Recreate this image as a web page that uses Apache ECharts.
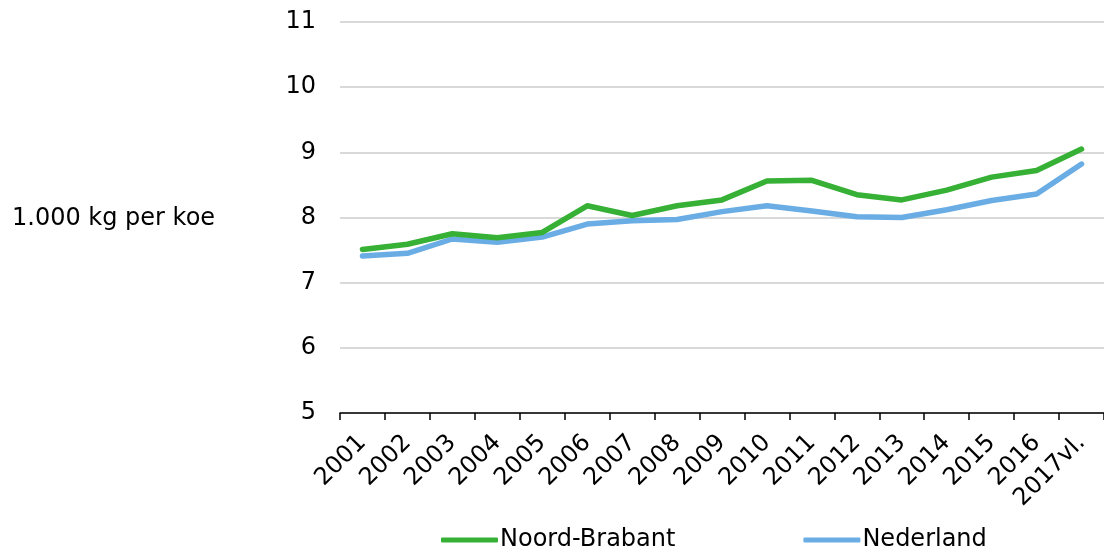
<!DOCTYPE html>
<html>
<head>
<meta charset="utf-8">
<script src="https://cdn.jsdelivr.net/npm/echarts@6/dist/echarts.min.js"></script>
<style>
  html, body { margin: 0; padding: 0; background: #fff; }
  #chart { width: 1104px; height: 557px; }
</style>
</head>
<body>
<div id="chart"></div>
<script>
var years = ['2001', '2002', '2003', '2004', '2005', '2006', '2007', '2008', '2009',
  '2010', '2011', '2012', '2013', '2014', '2015', '2016', '2017vl.'];
var noordBrabant = [7.51, 7.59, 7.75, 7.69, 7.77, 8.18, 8.03, 8.18, 8.27,
  8.56, 8.57, 8.35, 8.27, 8.42, 8.62, 8.72, 9.05];
var nederland = [7.41, 7.45, 7.67, 7.62, 7.70, 7.90, 7.95, 7.97, 8.09,
  8.18, 8.10, 8.01, 8.00, 8.12, 8.26, 8.36, 8.82];

var font = 'Verdana, "DejaVu Sans", sans-serif';
var green = '#36b035';
var blue = '#6aade4';

var chart = echarts.init(document.getElementById('chart'));

var option = {
  animation: false,
  textStyle: { fontFamily: font, color: '#000' },
  grid: { left: 340, top: 22, width: 770, bottom: 144 },
  graphic: [{
    type: 'text',
    left: 12,
    top: 207,
    style: { text: '1.000 kg per koe', font: '24px ' + font, fill: '#000' }
  }],
  legend: {
    bottom: 0,
    left: 436,
    itemGap: 128,
    itemWidth: 57,
    itemHeight: 5,
    icon: 'roundRect',
    textStyle: { fontSize: 24, fontFamily: font, color: '#000', padding: [0, 0, 0, -3] },
    data: ['Noord-Brabant', 'Nederland']
  },
  xAxis: {
    type: 'category',
    data: years,
    boundaryGap: true,
    axisLine: { lineStyle: { color: '#000', width: 1.5 } },
    axisTick: { show: true, length: 7, lineStyle: { color: '#000', width: 1.5 } },
    axisLabel: { rotate: 45, fontSize: 24, color: '#000', fontFamily: font, margin: 26, interval: 0 }
  },
  yAxis: {
    type: 'value',
    min: 5,
    max: 11,
    interval: 1,
    axisLine: { show: false },
    axisTick: { show: false },
    axisLabel: { fontSize: 24, color: '#000', fontFamily: font, margin: 24 },
    splitLine: { lineStyle: { color: '#d9d9d9', width: 2 } }
  },
  series: [{
    name: 'Noord-Brabant',
    type: 'line',
    data: noordBrabant,
    symbol: 'none',
    itemStyle: { color: green },
    lineStyle: { color: green, width: 5.5, cap: 'round', join: 'round' },
    z: 3
  }, {
    name: 'Nederland',
    type: 'line',
    data: nederland,
    symbol: 'none',
    itemStyle: { color: blue },
    lineStyle: { color: blue, width: 5.5, cap: 'round', join: 'round' },
    z: 2
  }]
};

chart.setOption(option);
</script>
</body>
</html>
